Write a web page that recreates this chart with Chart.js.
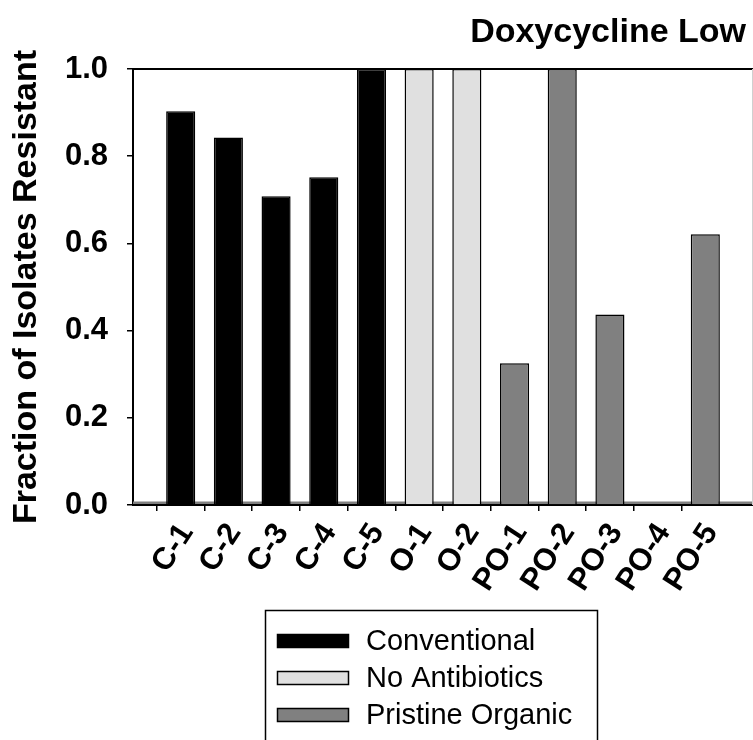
<!DOCTYPE html>
<html>
<head>
<meta charset="utf-8">
<script src="https://cdn.jsdelivr.net/npm/chart.js@4.4.1/dist/chart.umd.min.js"></script>
<style>
  html, body { margin: 0; padding: 0; background: #ffffff; }
  #wrap { width: 753px; height: 740px; position: relative; }
</style>
</head>
<body>
<div id="wrap"><canvas id="c" width="753" height="740"></canvas></div>
<script>
// Sampling sites and the fraction of isolates resistant at each
const categories = ['C-1', 'C-2', 'C-3', 'C-4', 'C-5', 'O-1', 'O-2', 'PO-1', 'PO-2', 'PO-3', 'PO-4', 'PO-5'];
const conventional    = [0.903, 0.843, 0.708, 0.752, 1.0, null, null, null, null, null, null, null];
const noAntibiotics   = [null, null, null, null, null, 1.0, 1.0, null, null, null, null, null];
const pristineOrganic = [null, null, null, null, null, null, null, 0.325, 1.0, 0.437, 0.0, 0.621];
const seriesNames = ['Conventional', 'No Antibiotics', 'Pristine Organic'];
const seriesColors = ['#000000', '#e0e0e0', '#808080'];
const yTicks = [0.0, 0.2, 0.4, 0.6, 0.8, 1.0];
const chartTitle = 'Doxycycline Low';
const yTitle = 'Fraction of Isolates Resistant';

const FONT = '"Liberation Sans", Arial, Helvetica, sans-serif';

// one empty slot on each side of the sites so the axis runs past the first and last bar
const labels = [''].concat(categories, ['']);
const pad = arr => [null].concat(arr, [null]);

const seriesData = [conventional, noAntibiotics, pristineOrganic];
const datasets = seriesData.map((d, i) => ({
  label: seriesNames[i],
  data: pad(d),
  backgroundColor: seriesColors[i],
  borderColor: '#000000',
  borderWidth: 1.5,
  grouped: false,
  categoryPercentage: 1.0,
  barPercentage: 0.61
}));

// frame line along the top, grey baseline band, title and boxed legend
const decorations = {
  id: 'decorations',
  beforeDatasetsDraw(chart) {
    const { ctx, chartArea: a } = chart;
    ctx.save();
    ctx.fillStyle = '#808080';
    ctx.fillRect(a.left, a.bottom - 3.5, a.right - a.left, 2.5);
    ctx.restore();
  },
  afterDatasetsDraw(chart) {
    const { ctx, chartArea: a } = chart;
    ctx.save();
    ctx.strokeStyle = '#000000';
    ctx.lineWidth = 2;
    ctx.beginPath();
    ctx.moveTo(a.left, a.top);
    ctx.lineTo(a.right, a.top);
    ctx.stroke();
    ctx.strokeStyle = '#d0d0d0';
    ctx.lineWidth = 1;
    ctx.beginPath();
    ctx.moveTo(a.right - 0.5, a.top);
    ctx.lineTo(a.right - 0.5, a.bottom);
    ctx.stroke();
    ctx.restore();
  },
  afterDraw(chart) {
    const { ctx } = chart;
    ctx.save();
    // title
    ctx.fillStyle = '#000000';
    ctx.font = 'bold 34px ' + FONT;
    ctx.textAlign = 'right';
    ctx.textBaseline = 'alphabetic';
    ctx.fillText(chartTitle, 746, 42);

    // legend box
    ctx.strokeStyle = '#000000';
    ctx.lineWidth = 1.5;
    ctx.strokeRect(265.5, 610.5, 332, 140);
    const rows = [641, 678, 715];
    ctx.font = '29px ' + FONT;
    ctx.textAlign = 'left';
    ctx.textBaseline = 'middle';
    chart.data.datasets.forEach((ds, i) => {
      const y = rows[i];
      ctx.fillStyle = ds.backgroundColor;
      ctx.fillRect(277.5, y - 6.5, 71, 13);
      ctx.lineWidth = 1.5;
      ctx.strokeStyle = '#000000';
      ctx.strokeRect(277.5, y - 6.5, 71, 13);
      ctx.fillStyle = '#000000';
      ctx.fillText(ds.label, 366, y + 1);
    });
    ctx.restore();
  }
};

new Chart(document.getElementById('c'), {
  type: 'bar',
  data: { labels, datasets },
  options: {
    responsive: false,
    animation: false,
    devicePixelRatio: 1,
    layout: { padding: { top: 69, left: 0, right: 0, bottom: 0 } },
    plugins: {
      legend: { display: false },
      title: { display: false },
      tooltip: { enabled: false }
    },
    scales: {
      x: {
        type: 'category',
        offset: false,
        afterFit(scale) {
          scale.height = 235;
          scale.paddingLeft = 0;
          scale.paddingRight = 0;
        },
        border: { display: true, color: '#000000', width: 2 },
        grid: {
          display: true,
          drawOnChartArea: false,
          drawTicks: true,
          tickLength: 6,
          lineWidth: 1.5,
          color: ctx => (ctx.index === 0 || ctx.index === labels.length - 1) ? 'rgba(0,0,0,0)' : '#000000'
        },
        ticks: {
          autoSkip: false,
          minRotation: 57,
          maxRotation: 57,
          padding: 6,
          labelOffset: 6,
          color: '#000000',
          font: { family: FONT, size: 31, weight: 'bold' }
        }
      },
      y: {
        min: 0,
        max: 1,
        afterFit(scale) { scale.width = 133; },
        afterBuildTicks(scale) { scale.ticks = yTicks.map(v => ({ value: v })); },
        border: { display: true, color: '#000000', width: 2 },
        grid: {
          display: true,
          drawOnChartArea: false,
          drawTicks: true,
          tickLength: 6,
          lineWidth: 1.5,
          color: '#000000'
        },
        ticks: {
          padding: 19,
          color: '#000000',
          font: { family: FONT, size: 31, weight: 'bold' },
          callback: v => Number(v).toFixed(1)
        },
        title: {
          display: true,
          text: yTitle,
          color: '#000000',
          padding: { top: 6, bottom: 0 },
          font: { family: FONT, size: 34, weight: 'bold' }
        }
      }
    }
  },
  plugins: [decorations]
});
</script>
</body>
</html>
